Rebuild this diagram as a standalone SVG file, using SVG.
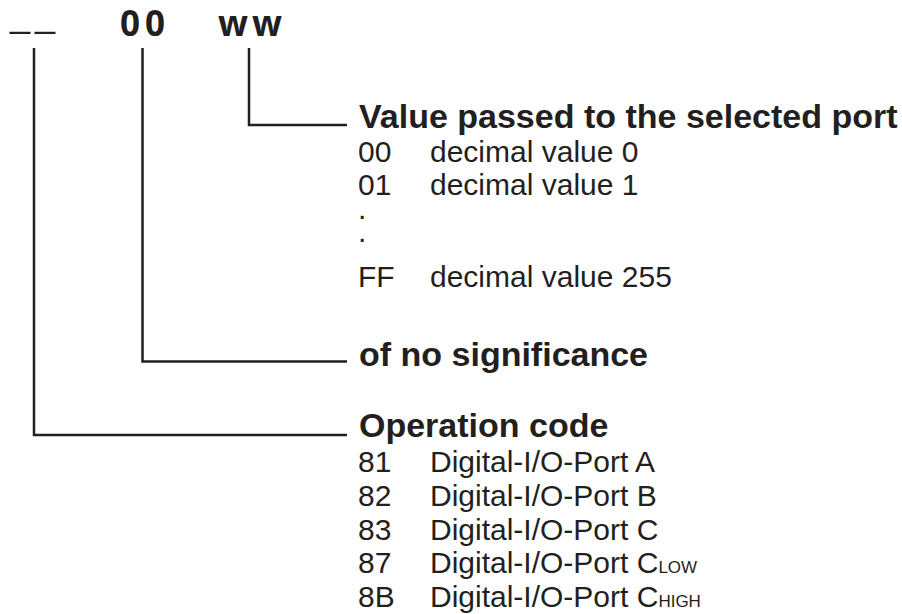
<svg xmlns="http://www.w3.org/2000/svg" width="902" height="614" viewBox="0 0 902 614">
<style>
text{fill:#231f20;font-family:"Liberation Sans",Arial,sans-serif}
.top{font-family:"Open Sans","DejaVu Sans",sans-serif;font-weight:bold;font-size:35px}
.us{font-size:36px}
.h{font-weight:bold;font-size:34px}
.r{font-size:30px}
.sub{font-size:17px}
.ln{fill:none;stroke:#231f20;stroke-width:2.5}
</style>
<rect width="902" height="614" fill="#fff"/>
<g id="fields">
<text class="us" x="10" y="27" letter-spacing="5">__</text>
<text class="top" x="120" y="36" letter-spacing="5">00</text>
<text class="top" x="218" y="36" letter-spacing="4">ww</text>
</g>
<g id="connectors">
<polyline class="ln" points="249,48 249,125 347,125"/>
<polyline class="ln" points="142.5,48 142.5,361.5 347,361.5"/>
<polyline class="ln" points="34,48 34,435 347,435"/>
</g>
<g id="value">
<text class="h" x="359" y="128">Value passed to the selected port</text>
<text class="r" x="358" y="162">00</text><text class="r" x="430" y="162">decimal value 0</text>
<text class="r" x="358" y="195">01</text><text class="r" x="430" y="195">decimal value 1</text>
<text class="r" x="358" y="219">.</text>
<text class="r" x="358" y="242">.</text>
<text class="r" x="358" y="287">FF</text><text class="r" x="430" y="287">decimal value 255</text>
</g>
<g id="nosig">
<text class="h" x="359" y="366">of no significance</text>
</g>
<g id="opcode">
<text class="h" x="359" y="437">Operation code</text>
<text class="r" x="358" y="472">81</text><text class="r" x="430" y="472">Digital-I/O-Port A</text>
<text class="r" x="358" y="506">82</text><text class="r" x="430" y="506">Digital-I/O-Port B</text>
<text class="r" x="358" y="540">83</text><text class="r" x="430" y="540">Digital-I/O-Port C</text>
<text class="r" x="358" y="573">87</text><text class="r" x="430" y="573">Digital-I/O-Port C<tspan class="sub">LOW</tspan></text>
<text class="r" x="358" y="607">8B</text><text class="r" x="430" y="607">Digital-I/O-Port C<tspan class="sub">HIGH</tspan></text>
</g>
</svg>
